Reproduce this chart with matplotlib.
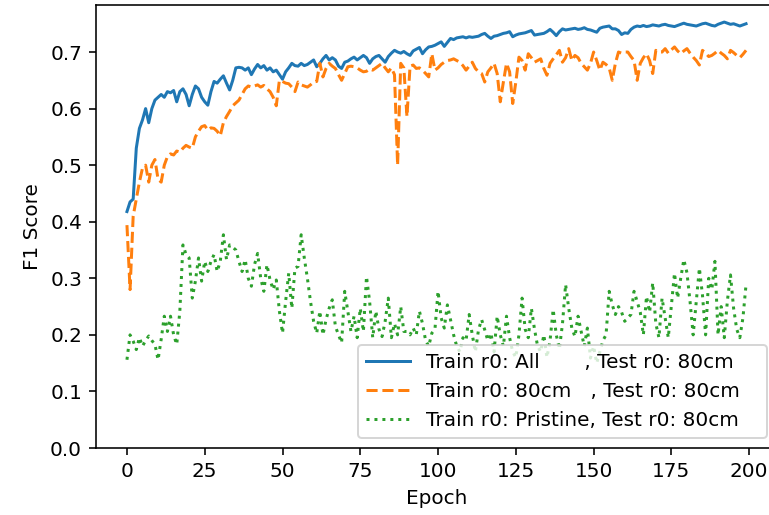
import matplotlib
matplotlib.use("Agg")
import matplotlib.pyplot as plt
import numpy as np

epochs = list(range(200))

train_all = [
    0.418, 0.435, 0.44, 0.53, 0.565, 0.58, 0.60, 0.575, 0.60, 0.615,
    0.62, 0.625, 0.62, 0.63, 0.628, 0.632, 0.612, 0.63, 0.635, 0.625,
    0.605, 0.625, 0.64, 0.635, 0.62, 0.612, 0.606, 0.63, 0.648, 0.645,
    0.652, 0.658, 0.645, 0.633, 0.65, 0.672, 0.673, 0.672, 0.668, 0.672,
    0.66, 0.67, 0.678, 0.672, 0.676, 0.668, 0.672, 0.665, 0.668, 0.66,
    0.652, 0.665, 0.672, 0.68, 0.676, 0.675, 0.68, 0.676, 0.678, 0.682,
    0.686, 0.674, 0.68, 0.688, 0.694, 0.686, 0.69, 0.686, 0.675, 0.671,
    0.682, 0.684, 0.688, 0.691, 0.686, 0.69, 0.694, 0.69, 0.68, 0.688,
    0.692, 0.694, 0.688, 0.682, 0.692, 0.698, 0.703, 0.70, 0.698, 0.701,
    0.697, 0.694, 0.702, 0.705, 0.708, 0.697, 0.704, 0.709, 0.71, 0.712,
    0.715, 0.718, 0.71, 0.717, 0.724, 0.722, 0.725, 0.726, 0.727, 0.725,
    0.727, 0.726, 0.727, 0.728, 0.731, 0.733, 0.728, 0.724, 0.728, 0.729,
    0.731, 0.733, 0.734, 0.736, 0.727, 0.73, 0.732, 0.733, 0.734, 0.736,
    0.738, 0.73, 0.731, 0.732, 0.733, 0.736, 0.74, 0.735, 0.729, 0.736,
    0.741, 0.739, 0.74, 0.741, 0.742, 0.74, 0.741, 0.743, 0.74, 0.739,
    0.737, 0.735, 0.742, 0.744, 0.745, 0.746, 0.741, 0.741, 0.738, 0.731,
    0.734, 0.733, 0.74, 0.744, 0.746, 0.745, 0.747, 0.745, 0.746, 0.748,
    0.747, 0.746, 0.748, 0.749, 0.747, 0.746, 0.745, 0.747, 0.749, 0.751,
    0.749, 0.748, 0.747, 0.746, 0.748, 0.75, 0.751, 0.749, 0.747, 0.746,
    0.749, 0.751, 0.753, 0.751, 0.749, 0.75, 0.748, 0.746, 0.748, 0.75,
]

train_80 = [
    0.394, 0.28, 0.41, 0.44, 0.47, 0.495, 0.50, 0.47, 0.50, 0.51,
    0.475, 0.47, 0.50, 0.515, 0.52, 0.518, 0.525, 0.523, 0.53, 0.535,
    0.532, 0.53, 0.55, 0.56, 0.568, 0.57, 0.562, 0.566, 0.565, 0.56,
    0.552, 0.575, 0.586, 0.595, 0.605, 0.61, 0.615, 0.625, 0.635, 0.64,
    0.638, 0.64, 0.642, 0.638, 0.641, 0.635, 0.63, 0.62, 0.605, 0.65,
    0.648, 0.645, 0.644, 0.638, 0.63, 0.647, 0.642, 0.64, 0.638, 0.642,
    0.647, 0.648, 0.68, 0.656, 0.671, 0.68, 0.675, 0.671, 0.66, 0.65,
    0.662, 0.674, 0.675, 0.674, 0.672, 0.668, 0.665, 0.666, 0.67, 0.668,
    0.672, 0.676, 0.68, 0.672, 0.665, 0.672, 0.66, 0.50, 0.68, 0.672,
    0.586, 0.675, 0.677, 0.671, 0.672, 0.668, 0.662, 0.656, 0.697, 0.668,
    0.672, 0.678, 0.682, 0.685, 0.686, 0.688, 0.685, 0.682, 0.676, 0.668,
    0.675, 0.682, 0.671, 0.665, 0.662, 0.647, 0.665, 0.672, 0.68, 0.662,
    0.612, 0.647, 0.68, 0.665, 0.609, 0.647, 0.691, 0.685, 0.668, 0.697,
    0.69, 0.682, 0.685, 0.688, 0.671, 0.659, 0.68, 0.688, 0.695, 0.703,
    0.682, 0.69, 0.706, 0.685, 0.694, 0.69, 0.68, 0.674, 0.668, 0.68,
    0.70, 0.685, 0.668, 0.682, 0.678, 0.672, 0.65, 0.68, 0.70, 0.698,
    0.70, 0.70, 0.692, 0.685, 0.65, 0.68, 0.69, 0.697, 0.685, 0.662,
    0.703, 0.70, 0.70, 0.706, 0.698, 0.704, 0.709, 0.702, 0.697, 0.702,
    0.706, 0.698, 0.691, 0.685, 0.677, 0.703, 0.698, 0.692, 0.694, 0.698,
    0.703, 0.698, 0.694, 0.688, 0.703, 0.699, 0.694, 0.69, 0.696, 0.703,
]

train_pristine = [
    0.156, 0.20, 0.189, 0.174, 0.195, 0.18, 0.19, 0.198, 0.19, 0.183,
    0.156, 0.192, 0.233, 0.206, 0.233, 0.20, 0.183, 0.242, 0.359, 0.342,
    0.336, 0.265, 0.295, 0.336, 0.295, 0.33, 0.312, 0.33, 0.342, 0.312,
    0.33, 0.377, 0.333, 0.359, 0.355, 0.35, 0.33, 0.312, 0.333, 0.30,
    0.286, 0.324, 0.344, 0.30, 0.277, 0.324, 0.297, 0.28, 0.297, 0.242,
    0.203, 0.259, 0.309, 0.247, 0.318, 0.321, 0.377, 0.336, 0.30, 0.259,
    0.224, 0.203, 0.242, 0.20, 0.227, 0.247, 0.262, 0.215, 0.20, 0.186,
    0.277, 0.242, 0.206, 0.233, 0.195, 0.247, 0.206, 0.303, 0.259, 0.195,
    0.242, 0.21, 0.197, 0.224, 0.265, 0.195, 0.22, 0.20, 0.25, 0.206,
    0.206, 0.20, 0.212, 0.20, 0.242, 0.22, 0.19, 0.18, 0.203, 0.21,
    0.277, 0.23, 0.212, 0.253, 0.227, 0.20, 0.18, 0.17, 0.195, 0.19,
    0.236, 0.20, 0.17, 0.209, 0.227, 0.209, 0.19, 0.203, 0.17, 0.233,
    0.20, 0.18, 0.233, 0.195, 0.17, 0.16, 0.20, 0.265, 0.21, 0.195,
    0.247, 0.21, 0.18, 0.17, 0.20, 0.16, 0.19, 0.245, 0.20, 0.175,
    0.22, 0.289, 0.247, 0.212, 0.197, 0.233, 0.206, 0.18, 0.212, 0.159,
    0.18, 0.15, 0.17, 0.19, 0.20, 0.277, 0.253, 0.236, 0.25, 0.24,
    0.224, 0.23, 0.236, 0.277, 0.259, 0.24, 0.20, 0.268, 0.24, 0.292,
    0.22, 0.195, 0.265, 0.23, 0.195, 0.253, 0.309, 0.265, 0.30, 0.333,
    0.31, 0.259, 0.20, 0.26, 0.318, 0.27, 0.20, 0.30, 0.28, 0.330,
    0.20, 0.25, 0.195, 0.26, 0.306, 0.247, 0.21, 0.195, 0.23, 0.289,
]

labels = [
    "Train r0: All       , Test r0: 80cm   ",
    "Train r0: 80cm   , Test r0: 80cm   ",
    "Train r0: Pristine, Test r0: 80cm   ",
]

DPI = 144
fig = plt.figure(figsize=(769 / DPI, 515 / DPI), dpi=DPI)
ax = fig.add_axes([96 / 769, 67 / 515, (777 - 96) / 769, (448 - 5) / 515])

ax.plot(epochs, train_all, linestyle="-", label=labels[0])
ax.plot(epochs, train_80, linestyle="--", label=labels[1])
ax.plot(epochs, train_pristine, linestyle=":", label=labels[2])

ax.set_ylim(bottom=0)
ax.set_xlabel("Epoch")
ax.set_ylabel("F1 Score")
ax.spines["right"].set_visible(False)
ax.legend(loc="lower right", handlelength=2.2, handletextpad=0.8)

fig.savefig("out.png", dpi=DPI)
